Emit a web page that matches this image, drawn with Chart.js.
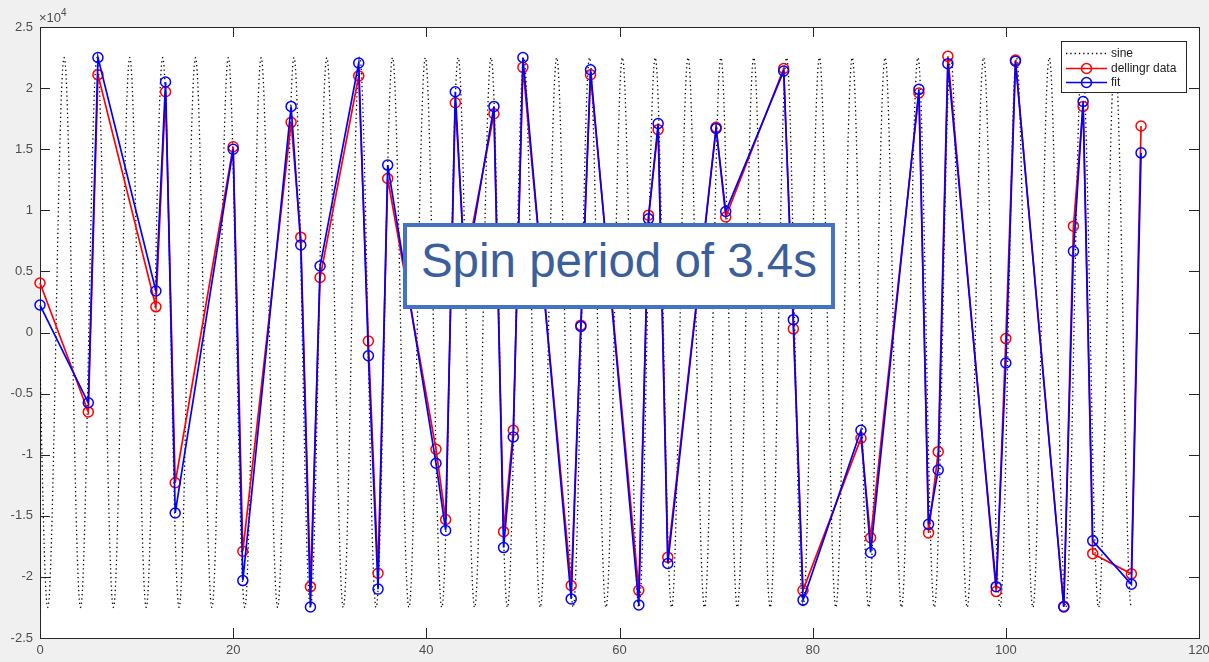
<!DOCTYPE html>
<html>
<head>
<meta charset="utf-8">
<script src="https://cdn.jsdelivr.net/npm/chart.js@4.4.1/dist/chart.umd.min.js"></script>
<style>
  html, body { margin: 0; padding: 0; background: #f0f0f0; }
  #wrap { position: relative; width: 1209px; height: 662px; overflow: hidden; }
  #expo { position: absolute; left: 39px; top: 8px; font: 13px "Liberation Sans", Arial, sans-serif; color: #4d4d4d; }
  #expo sup { font-size: 10px; position: relative; top: -1px; }
  #note {
    position: absolute; left: 403px; top: 223px; width: 432px; height: 86px;
    box-sizing: border-box; border: 4px solid #4472c4; background: #fff;
  }
  #note span {
    position: absolute; left: 0; right: 0; top: 10px; text-align: center;
    font: 47.5px/47.5px "Liberation Sans", Arial, sans-serif; color: #3b5e9d; white-space: nowrap;
  }
</style>
</head>
<body>
<div id="wrap">
  <canvas id="chart" width="1240" height="662"></canvas>
  <div id="expo">×10<sup>4</sup></div>
  <div id="note"><span>Spin period of 3.4s</span></div>
</div>
<script>
'use strict';

// sample times
const X_VALUES = [0, 5, 6, 12, 13, 14, 20, 21, 26, 27, 28, 29, 33, 34, 35, 36, 41, 42, 43, 44,
  47, 48, 49, 50, 55, 56, 57, 62, 63, 64, 65, 70, 71, 77, 78, 79, 85, 86, 91, 92, 93, 94,
  99, 100, 101, 106, 107, 108, 109, 113, 114];

// dellingr data (red)
const DATA_VALUES = [4050, -6500, 21100, 2100, 19700, -12300, 15200, -17900, 17200, 7800, -20800, 4500,
  21000, -700, -19700, 12600, -9550, -15300, 18800, 5500, 17900, -16300, -8000, 21700,
  -20700, 600, 21100, -21100, 9600, 16600, -18400, 16800, 9450, 21600, 300, -21100,
  -8650, -16800, 19600, -16400, -9750, 22600, -21200, -500, 22300, -22400, 8700, 18500,
  -18100, -19750, 16900];

// fit (blue)
const FIT_VALUES = [2250, -5750, 22500, 3400, 20500, -14770, 15000, -20300, 18500, 7160, -22460, 5440,
  22050, -1900, -21000, 13700, -10700, -16200, 19700, 4500, 18500, -17600, -8550, 22500,
  -21800, 500, 21500, -22300, 9300, 17100, -18900, 16700, 9900, 21400, 1050, -21900,
  -8000, -18000, 19900, -15700, -11250, 22000, -20800, -2500, 22200, -22460, 6650, 18900,
  -17050, -20600, 14700];

// sine reference: period 3.4, trough near x = 0.8
const SINE_AMPLITUDE = 22500;
const SINE_PERIOD = 3.4;
const SINE_TROUGH = 0.8;
const SINE_START = 0;
const SINE_END = 113;
const SINE_STEP = 0.02;

const X_TICKS = [0, 20, 40, 60, 80, 100, 120];
const Y_TICKS = [-25000, -20000, -15000, -10000, -5000, 0, 5000, 10000, 15000, 20000, 25000];

const LEGEND_LABELS = ['sine', 'dellingr data', 'fit'];

const sinePoints = [];
for (let t = SINE_START; t <= SINE_END + 1e-9; t += SINE_STEP) {
  sinePoints.push({ x: t, y: -SINE_AMPLITUDE * Math.cos(2 * Math.PI * (t - SINE_TROUGH) / SINE_PERIOD) });
}
const dataPoints = X_VALUES.map((x, i) => ({ x, y: DATA_VALUES[i] }));
const fitPoints = X_VALUES.map((x, i) => ({ x, y: FIT_VALUES[i] }));

const AXIS_COLOR = '#262626';
const TICK_FONT = { family: '"Liberation Sans", Arial, sans-serif', size: 13 };

// MATLAB-ish frame: grey figure, white axes, inward ticks on all four sides
const matlabFrame = {
  id: 'matlabFrame',
  beforeDraw(chart) {
    const { ctx, chartArea: a } = chart;
    ctx.save();
    ctx.fillStyle = '#f0f0f0';
    ctx.fillRect(0, 0, chart.width, chart.height);
    ctx.fillStyle = '#ffffff';
    ctx.fillRect(a.left, a.top, a.right - a.left, a.bottom - a.top);
    ctx.restore();
  },
  beforeDatasetsDraw(chart) {
    const { ctx, chartArea: a, scales } = chart;
    const len = 10;
    ctx.save();
    ctx.strokeStyle = AXIS_COLOR;
    ctx.lineWidth = 1;
    ctx.beginPath();
    scales.x.ticks.forEach(t => {
      const px = Math.round(scales.x.getPixelForValue(t.value)) + 0.5;
      ctx.moveTo(px, a.bottom); ctx.lineTo(px, a.bottom - len);
      ctx.moveTo(px, a.top); ctx.lineTo(px, a.top + len);
    });
    scales.y.ticks.forEach(t => {
      const py = Math.round(scales.y.getPixelForValue(t.value)) + 0.5;
      ctx.moveTo(a.left, py); ctx.lineTo(a.left + len, py);
      ctx.moveTo(a.right, py); ctx.lineTo(a.right - len, py);
    });
    ctx.stroke();
    ctx.strokeRect(Math.round(a.left) + 0.5, Math.round(a.top) + 0.5,
      Math.round(a.right - a.left), Math.round(a.bottom - a.top));
    ctx.restore();
  },
  afterDatasetsDraw(chart) {
    const { ctx } = chart;
    ctx.save();
    ctx.strokeStyle = AXIS_COLOR;
    ctx.lineWidth = 1;
    // legend box
    const lx = 1061, ly = 41, lw = 125, lh = 51;
    ctx.fillStyle = '#ffffff';
    ctx.fillRect(lx, ly, lw, lh);
    ctx.strokeRect(lx + 0.5, ly + 0.5, lw, lh);
    const rows = [53, 68, 82];
    ctx.font = '12px "Liberation Sans", Arial, sans-serif';
    ctx.textBaseline = 'middle';
    chart.data.datasets.forEach((ds, i) => {
      const y = rows[i] + 0.5;
      ctx.save();
      ctx.strokeStyle = ds.borderColor;
      ctx.lineWidth = ds.borderWidth;
      ctx.setLineDash(ds.borderDash || []);
      ctx.beginPath();
      ctx.moveTo(1066, y); ctx.lineTo(1107, y);
      ctx.stroke();
      ctx.setLineDash([]);
      if (ds.pointRadius > 0) {
        ctx.lineWidth = ds.pointBorderWidth;
        ctx.beginPath();
        ctx.arc(1086.5, y, ds.pointRadius, 0, Math.PI * 2);
        ctx.stroke();
      }
      ctx.restore();
      ctx.fillStyle = '#1a1a1a';
      ctx.fillText(LEGEND_LABELS[i], 1111, y);
    });
    ctx.restore();
  }
};

new Chart(document.getElementById('chart'), {
  type: 'line',
  data: {
    datasets: [
      {
        label: LEGEND_LABELS[0], data: sinePoints, order: 3,
        borderColor: '#000000', borderWidth: 1.3, borderDash: [1.3, 3],
        pointRadius: 0, tension: 0, fill: false
      },
      {
        label: LEGEND_LABELS[1], data: dataPoints, order: 2, clip: false,
        borderColor: '#ff0000', borderWidth: 1.7, tension: 0, fill: false,
        pointRadius: 5, pointBorderWidth: 1.5, pointBorderColor: '#ff0000',
        pointBackgroundColor: 'rgba(0,0,0,0)'
      },
      {
        label: LEGEND_LABELS[2], data: fitPoints, order: 1, clip: false,
        borderColor: '#0000ff', borderWidth: 1.7, tension: 0, fill: false,
        pointRadius: 5, pointBorderWidth: 1.5, pointBorderColor: '#0000ff',
        pointBackgroundColor: 'rgba(0,0,0,0)'
      }
    ]
  },
  options: {
    responsive: false,
    animation: false,
    devicePixelRatio: 1,
    layout: { padding: { left: 0, right: 41, top: 27, bottom: 0 } },
    plugins: { legend: { display: false }, tooltip: { enabled: false } },
    scales: {
      x: {
        type: 'linear', min: 0, max: 120,
        afterBuildTicks: s => { s.ticks = X_TICKS.map(v => ({ value: v })); },
        afterFit: s => { s.height = 24; },
        grid: { display: false, drawTicks: false },
        border: { display: false },
        ticks: { color: '#4d4d4d', font: TICK_FONT, padding: 5, maxRotation: 0 }
      },
      y: {
        type: 'linear', min: -25000, max: 25000,
        afterBuildTicks: s => { s.ticks = Y_TICKS.map(v => ({ value: v })); },
        afterFit: s => { s.width = 40; },
        grid: { display: false, drawTicks: false },
        border: { display: false },
        ticks: { color: '#4d4d4d', font: TICK_FONT, padding: 7, callback: v => String(v / 10000) }
      }
    }
  },
  plugins: [matlabFrame]
});
</script>
</body>
</html>
